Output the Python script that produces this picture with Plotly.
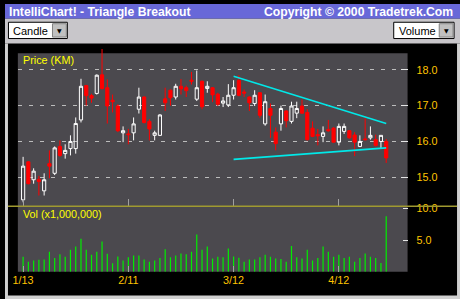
import plotly.graph_objects as go

# ---------------- data ----------------
idx = list(range(70))
opens = [14.37, 15.43, 14.93, 14.94, 14.62, 15.38, 15.11, 15.86, 15.66, 15.80,
         15.80, 16.60, 17.56, 17.28, 17.34, 17.86, 17.50, 17.15, 16.99, 16.24,
         16.21, 16.24, 16.90, 17.24, 16.56, 16.17, 16.17, 17.19, 17.43, 17.24,
         17.54, 17.50, 17.71, 17.18, 17.68, 17.48, 17.50, 17.32, 17.07, 17.02,
         17.29, 17.70, 17.38, 17.24, 17.06, 17.36, 16.49, 16.92, 16.26, 16.49,
         16.85, 16.56, 16.79, 16.99, 16.81, 16.37, 16.19, 16.14, 16.33, 16.37,
         15.98, 16.28, 16.30, 16.18, 15.86, 16.07, 16.10, 16.05, 16.00, 16.00]
highs = [15.57, 15.45, 15.25, 15.04, 15.11, 15.75, 15.86, 16.03, 15.92, 16.17,
         16.67, 17.75, 17.58, 17.33, 17.87, 18.58, 17.73, 17.31, 17.04, 16.42,
         16.35, 16.67, 17.50, 17.26, 16.62, 16.30, 16.76, 17.50, 17.45, 17.61,
         17.74, 17.56, 17.94, 17.98, 17.70, 17.68, 17.52, 17.36, 17.24, 17.60,
         17.71, 17.85, 17.45, 17.26, 17.43, 17.38, 17.31, 17.06, 16.39, 17.00,
         16.87, 17.11, 17.11, 17.17, 16.90, 16.56, 16.35, 16.42, 16.60, 16.40,
         16.50, 16.50, 16.32, 16.26, 16.17, 16.65, 16.42, 16.19, 16.17, 16.07]
lows = [14.30, 14.80, 14.82, 14.49, 14.49, 14.97, 15.06, 15.57, 15.52, 15.61,
        15.66, 16.53, 17.00, 17.08, 17.31, 17.45, 16.50, 16.81, 16.26, 15.98,
        15.92, 16.03, 16.78, 16.50, 16.03, 16.03, 16.15, 16.85, 17.00, 17.17,
        17.31, 17.24, 17.59, 17.13, 16.90, 17.36, 17.10, 16.99, 16.96, 16.96,
        17.17, 17.26, 17.24, 16.85, 16.99, 16.66, 16.44, 16.10, 15.75, 16.30,
        16.39, 16.50, 16.65, 16.77, 16.03, 16.12, 15.89, 15.98, 16.27, 15.98,
        15.89, 16.21, 16.08, 15.59, 15.84, 16.03, 16.05, 15.86, 15.80, 15.40]
closes = [15.31, 14.82, 15.17, 14.88, 14.93, 15.31, 15.82, 15.61, 15.75, 16.00,
          16.50, 17.54, 17.28, 17.21, 17.85, 17.48, 16.99, 17.11, 16.30, 16.30,
          16.19, 16.49, 17.24, 16.53, 16.35, 16.24, 16.74, 17.08, 17.22, 17.54,
          17.47, 17.42, 17.68, 17.50, 16.97, 17.54, 17.30, 17.04, 17.13, 17.29,
          17.50, 17.29, 17.35, 17.08, 17.29, 16.73, 17.11, 16.73, 15.94, 16.92,
          16.58, 16.99, 16.92, 16.79, 16.05, 16.14, 16.16, 16.24, 16.30, 15.98,
          16.42, 16.42, 16.10, 15.98, 16.00, 16.05, 16.17, 15.89, 16.17, 15.54]
volume = [2.4, 1.6, 1.8, 1.9, 1.95, 3.2, 2.2, 2.8, 2.4, 3.5,
          4.0, 5.25, 3.5, 2.7, 3.2, 4.8, 2.85, 1.35, 2.45, 1.8,
          2.3, 2.6, 2.6, 1.95, 1.6, 1.8, 2.2, 3.6, 2.3, 2.6,
          2.9, 2.8, 3.2, 5.9, 3.5, 4.0, 2.1, 2.4, 2.3, 3.7,
          2.45, 2.25, 1.6, 1.95, 1.95, 2.3, 2.7, 2.4, 2.1, 2.05,
          1.6, 4.1, 2.3, 2.1, 3.5, 1.8, 2.2, 4.0, 3.2, 2.4,
          2.7, 2.2, 2.4, 1.6, 2.2, 2.9, 2.4, 2.2, 1.4, 8.8]

date_tick_idx = [0, 20, 40, 60]
date_tick_labels = ["1/13", "2/11", "3/12", "4/12"]
price_ticks = [15.0, 16.0, 17.0, 18.0]
price_tick_labels = ["15.0", "16.0", "17.0", "18.0"]
vol_ticks = [5.0, 10.0]
vol_tick_labels = ["5.0", "10.0"]

trend_x = [40, 69]
trend_upper = [17.82, 16.50]
trend_lower = [15.50, 15.82]

# ---------------- styling helpers ----------------
W, H = 460, 299
GOLD = "#ffc400"
PANEL = "#4b494e"
FONT = "Liberation Sans"


def px(x):
    return x / W


def py(y):
    return (H - y) / H


x_lo, x_hi = -0.996, 73.06
p_lo, p_hi = 14.19, 18.598
v_hi = 10.39

fig = go.Figure()

fig.add_trace(go.Candlestick(
    x=idx, open=opens, high=highs, low=lows, close=closes,
    xaxis="x", yaxis="y",
    increasing=dict(line=dict(color="#ffffff", width=1), fillcolor="rgba(0,0,0,0)"),
    decreasing=dict(line=dict(color="#ff0000", width=1), fillcolor="#ff0000"),
    whiskerwidth=0, hoverinfo="skip",
))

for ty in (trend_upper, trend_lower):
    fig.add_trace(go.Scatter(x=trend_x, y=ty, mode="lines", xaxis="x", yaxis="y",
                             line=dict(color="#00e8e8", width=1.6), hoverinfo="skip"))

vx, vy = [], []
for i, v in zip(idx, volume):
    vx += [i, i, None]
    vy += [0, v, None]
fig.add_trace(go.Scatter(x=vx, y=vy, mode="lines", xaxis="x2", yaxis="y2",
                         line=dict(color="#00ee00", width=1.2), hoverinfo="skip"))

shapes = [
    # title bar and toolbar
    dict(type="rect", xref="paper", yref="paper", x0=0, x1=1, y0=py(15), y1=py(0),
         fillcolor="#6868d8", line_width=0, layer="below"),
    dict(type="rect", xref="paper", yref="paper", x0=0, x1=1, y0=py(40), y1=py(15),
         fillcolor="#c8c6ca", line_width=0, layer="below"),
    # window borders
    dict(type="rect", xref="paper", yref="paper", x0=0, x1=px(3), y0=0, y1=py(40),
         fillcolor="#d0d0d0", line_width=0, layer="below"),
    dict(type="rect", xref="paper", yref="paper", x0=px(457), x1=1, y0=0, y1=py(40),
         fillcolor="#d0d0d0", line_width=0, layer="below"),
    dict(type="rect", xref="paper", yref="paper", x0=0, x1=1, y0=0, y1=py(295.5),
         fillcolor="#d0d0d0", line_width=0, layer="below"),
    # panel backgrounds
    dict(type="rect", xref="paper", yref="paper", x0=px(13), x1=px(407), y0=py(205), y1=py(50),
         fillcolor=PANEL, line_width=0, layer="below"),
    dict(type="rect", xref="paper", yref="paper", x0=px(13), x1=px(407), y0=py(271.5), y1=py(205),
         fillcolor=PANEL, line_width=0, layer="below"),
    # separator
    dict(type="line", xref="paper", yref="paper", x0=px(3), x1=px(457), y0=py(205), y1=py(205),
         line=dict(color="#a09a30", width=1.5), layer="above"),
    # dropdown boxes
    dict(type="rect", xref="paper", yref="paper", x0=px(3.5), x1=px(63), y0=py(35), y1=py(18.5),
         fillcolor="#ffffff", line=dict(color="#000000", width=1), layer="above"),
    dict(type="rect", xref="paper", yref="paper", x0=px(48), x1=px(62), y0=py(33.5), y1=py(20),
         fillcolor="#c0c0c0", line=dict(color="#808080", width=1), layer="above"),
    dict(type="rect", xref="paper", yref="paper", x0=px(393), x1=px(454), y0=py(35), y1=py(18.5),
         fillcolor="#ffffff", line=dict(color="#000000", width=1), layer="above"),
    dict(type="rect", xref="paper", yref="paper", x0=px(439), x1=px(453), y0=py(33.5), y1=py(20),
         fillcolor="#c0c0c0", line=dict(color="#808080", width=1), layer="above"),
]

annotations = [
    dict(text="<b>IntelliChart! - Triangle Breakout</b>", xref="paper", yref="paper",
         x=px(2), y=py(8), xanchor="left", yanchor="middle", showarrow=False,
         font=dict(family=FONT, size=12.2, color="#ffffff")),
    dict(text="<b>Copyright © 2000 Tradetrek.Com</b>", xref="paper", yref="paper",
         x=px(455), y=py(8), xanchor="right", yanchor="middle", showarrow=False,
         font=dict(family=FONT, size=12.2, color="#ffffff")),
    dict(text="Candle", xref="paper", yref="paper", x=px(6.5), y=py(27), xanchor="left",
         yanchor="middle", showarrow=False, font=dict(family=FONT, size=11, color="#000000")),
    dict(text="Volume", xref="paper", yref="paper", x=px(396), y=py(27), xanchor="left",
         yanchor="middle", showarrow=False, font=dict(family=FONT, size=11, color="#000000")),
    dict(text="▼", xref="paper", yref="paper", x=px(55), y=py(27), xanchor="center",
         yanchor="middle", showarrow=False, font=dict(family="DejaVu Sans", size=6, color="#000000")),
    dict(text="▼", xref="paper", yref="paper", x=px(446), y=py(27), xanchor="center",
         yanchor="middle", showarrow=False, font=dict(family="DejaVu Sans", size=6, color="#000000")),
    dict(text="Price (KM)", xref="paper", yref="paper", x=px(16), y=py(57), xanchor="left",
         yanchor="middle", showarrow=False, font=dict(family=FONT, size=10.8, color="#ffff00")),
    dict(text="Vol (x1,000,000)", xref="paper", yref="paper", x=px(16), y=py(213), xanchor="left",
         yanchor="middle", showarrow=False, font=dict(family=FONT, size=10.8, color="#ffff00")),
]

tickfont = dict(family=FONT, size=10.8, color=GOLD)
dom_x = [px(13), px(407)]

fig.update_layout(
    width=W, height=H, margin=dict(l=0, r=0, t=0, b=0),
    paper_bgcolor="#000000", plot_bgcolor="rgba(0,0,0,0)", showlegend=False,
    boxgap=0.14,
    shapes=shapes, annotations=annotations,
    xaxis=dict(domain=dom_x, range=[x_lo, x_hi], anchor="y", ticks="inside", ticklen=7,
               tickcolor="#a0a0a0", tickvals=date_tick_idx, showticklabels=False,
               showgrid=False, zeroline=False, showline=False, fixedrange=True,
               rangeslider=dict(visible=False)),
    xaxis2=dict(domain=dom_x, range=[x_lo, x_hi], anchor="y2", matches="x", ticks="inside",
                ticklen=6, tickcolor="#a0a0a0", tickvals=date_tick_idx,
                ticktext=date_tick_labels, tickfont=tickfont, showgrid=False,
                zeroline=False, showline=False, ticklabelstandoff=0),
    yaxis=dict(domain=[py(205), py(45)], range=[p_lo, p_hi], anchor="x", side="right",
               ticks="inside", ticklen=7, tickcolor="#e6e6e6", tickvals=price_ticks,
               ticktext=price_tick_labels, tickfont=tickfont, showgrid=True,
               gridcolor="#bcbcbc", gridwidth=1, griddash="4px,7px", zeroline=False,
               showline=False, ticklabelstandoff=8),
    yaxis2=dict(domain=[py(271.5), py(205)], range=[0, v_hi], anchor="x2", side="right",
                ticks="inside", ticklen=5, tickcolor="#e6e6e6", tickvals=vol_ticks,
                ticktext=vol_tick_labels, tickfont=tickfont, showgrid=False,
                zeroline=False, showline=False, ticklabelstandoff=8),
)

fig.write_html("out.html")
